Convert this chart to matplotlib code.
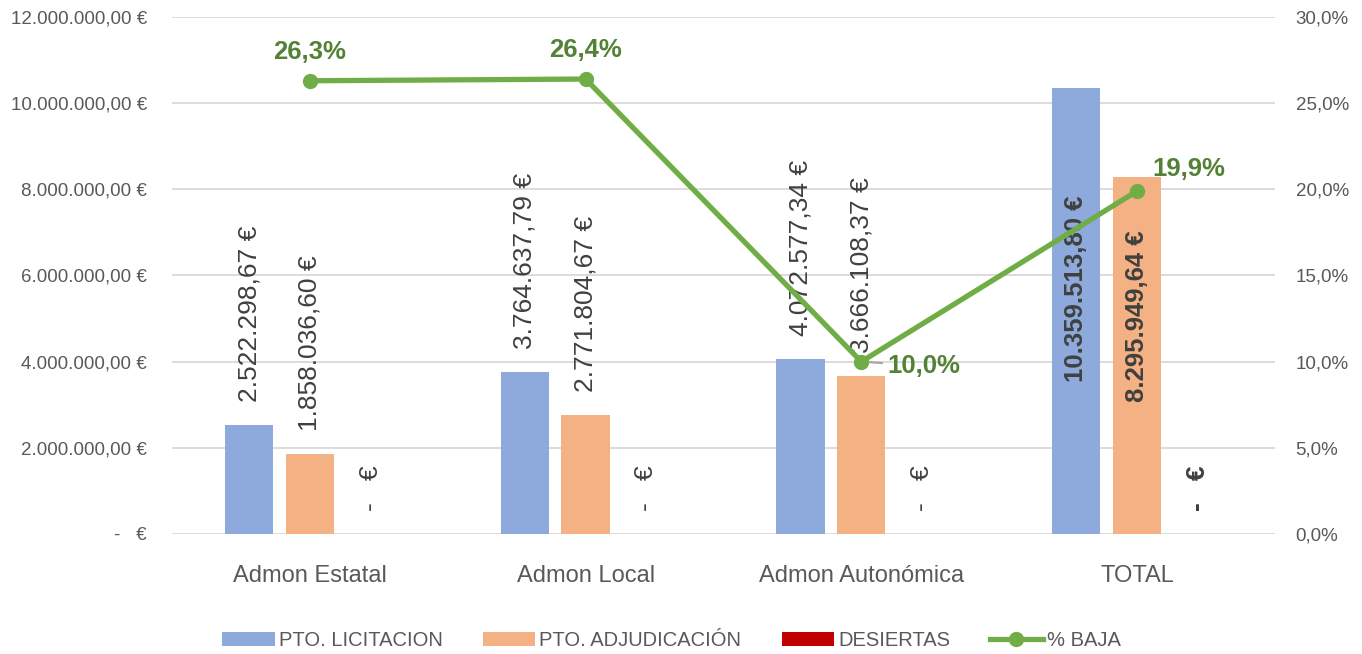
import numpy as np
import matplotlib.pyplot as plt
from matplotlib.ticker import FuncFormatter, MultipleLocator

plt.rcParams['font.family'] = ['Liberation Sans', 'DejaVu Sans']

# datos
categorias = ['Admon Estatal', 'Admon Local', 'Admon Autonómica', 'TOTAL']
licitacion = [2522298.67, 3764637.79, 4072577.34, 10359513.80]
adjudicacion = [1858036.60, 2771804.67, 3666108.37, 8295949.64]
desiertas = [0, 0, 0, 0]
baja = [26.3, 26.4, 10.0, 19.9]

colors = {
    'lic': '#8EA9DB',
    'adj': '#F4B183',
    'des': '#C00000',
    'baja': '#70AD47',
}
txt_gris = '#595959'
txt_oscuro = '#404040'
verde_txt = '#538135'


def euro(v):
    if v == 0:
        return '-   €'
    s = f'{v:,.2f}'
    s = s.replace(',', 'X').replace('.', ',').replace('X', '.')
    return s + ' €'


fig = plt.figure(figsize=(13.62, 6.54), dpi=100)
ax = fig.add_axes([0.1263, 0.1835, 0.8097, 0.7905])
x = np.arange(len(categorias))
w = 0.175
off = 0.22

b1 = ax.bar(x - off, licitacion, w, color=colors['lic'], label='PTO. LICITACION', zorder=2)
b2 = ax.bar(x, adjudicacion, w, color=colors['adj'], label='PTO. ADJUDICACIÓN', zorder=2)
b3 = ax.bar(x + off, desiertas, w, color=colors['des'], label='DESIERTAS', zorder=2)

ax.set_xlim(-0.5, 3.5)
ax.set_ylim(0, 12000000)
ax.yaxis.set_major_locator(MultipleLocator(2000000))
ax.yaxis.set_major_formatter(FuncFormatter(lambda v, p: euro(v) if v != 0 else '-   €'))
ax.set_xticks(x)
ax.set_xticklabels(categorias, fontsize=17, color=txt_gris)
ax.tick_params(axis='y', labelsize=13.5, labelcolor=txt_gris, length=0, pad=18)
ax.tick_params(axis='x', length=0, pad=22)
ax.grid(axis='y', color='#D9D9D9', linewidth=1.3, zorder=0)
ax.set_axisbelow(True)
for s in ax.spines.values():
    s.set_visible(False)

# etiquetas de las barras
for i in range(len(categorias)):
    ultimo = (i == len(categorias) - 1)
    for xi, v, frac in [(x[i] - off, licitacion[i], 0.55), (x[i], adjudicacion[i], 0.61),
                        (x[i] + off, desiertas[i], None)]:
        if ultimo and v > 0:
            ax.text(xi, v * frac, euro(v), rotation=90, ha='center', va='center',
                    fontsize=18.5, fontweight='bold', color=txt_oscuro, zorder=3)
        else:
            ax.annotate(euro(v), (xi, v), xytext=(0, 16.5), textcoords='offset points',
                        rotation=90, ha='center', va='bottom', fontsize=19,
                        fontweight='bold' if ultimo else 'normal', color=txt_oscuro)

ax2 = ax.twinx()
ax2.set_position(ax.get_position())
l1, = ax2.plot(x, baja, color=colors['baja'], linewidth=3.8, marker='o', markersize=10,
               label='% BAJA', zorder=5)
ax2.set_ylim(0, 30)
ax2.yaxis.set_major_locator(MultipleLocator(5))
ax2.yaxis.set_major_formatter(FuncFormatter(lambda v, p: f'{v:.1f}%'.replace('.', ',')))
ax2.tick_params(axis='y', labelsize=13.5, labelcolor=txt_gris, length=0, pad=15)
for s in ax2.spines.values():
    s.set_visible(False)

offsets = [(0, 12, 'center', 'bottom'), (0, 12, 'center', 'bottom'),
           (19, -3, 'left', 'center'), (37, 16, 'center', 'center')]
for i, v in enumerate(baja):
    dx, dy, ha, va = offsets[i]
    kw = {}
    if i == 2:
        kw['arrowprops'] = dict(arrowstyle='-', color='#A6A6A6', lw=1.5, shrinkA=2, shrinkB=0)
    ax2.annotate(f'{v:.1f}%'.replace('.', ','), (x[i], v), xytext=(dx, dy),
                 textcoords='offset points', ha=ha, va=va, fontsize=18.5,
                 fontweight='bold', color=verde_txt, **kw)

fig.legend(handles=[b1, b2, b3, l1], loc='lower center', bbox_to_anchor=(0.493, -0.022),
           ncol=4, frameon=False, fontsize=14.5, labelcolor=txt_gris,
           handlelength=2.6, handleheight=0.7, handletextpad=0.2, columnspacing=2.0)

fig.savefig('out.png', dpi=100)
